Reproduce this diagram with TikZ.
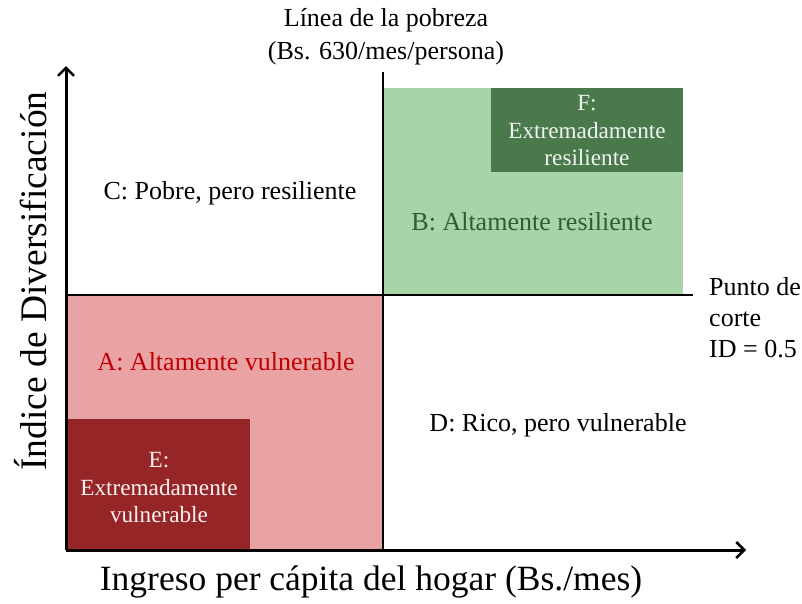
\documentclass[tikz,border=0pt]{standalone}
\usepackage{fontspec}
\setmainfont{Liberation Serif}
\usetikzlibrary{arrows.meta}
\definecolor{pinkA}{HTML}{EAA3A4}
\definecolor{redE}{HTML}{962527}
\definecolor{greenB}{HTML}{A8D4A8}
\definecolor{greenF}{HTML}{4A7A4B}
\definecolor{redtxt}{HTML}{C00000}
\definecolor{greentxt}{HTML}{2F5E2F}
\begin{document}
\begin{tikzpicture}[x=1pt,y=-1pt,
  lbl/.style={font=\fontsize{26}{31}\selectfont, align=center, inner sep=0pt},
  tight/.style={font=\fontsize{23.2}{27.5}\selectfont},
  axis/.style={line width=3pt, -{Straight Barb[length=8pt,width=16pt,line width=2.5pt]}},
  cut/.style={line width=1.3pt}]
\useasboundingbox (0,0) rectangle (802,603);
% regions
\fill[pinkA] (66,295) rectangle (383,550);
\fill[redE] (66,419) rectangle (250,550);
\fill[greenB] (383,88) rectangle (683,295);
\fill[greenF] (491,88) rectangle (683,172);
% cut lines
\coordinate (hl) at (66,295);
\coordinate (hr) at (693,295);
\coordinate (vt) at (383,72);
\coordinate (vb) at (383,550);
\draw[cut] (hl) -- (hr);
\draw[cut] (vt) -- (vb);
% axes
\coordinate (o) at (66,550);
\coordinate (ytop) at (66,66);
\coordinate (xend) at (746,550);
\draw[axis] (o) -- (ytop);
\draw[axis] (o) -- (xend);
% labels
\node[lbl, font=\fontsize{26}{33}\selectfont] (pob) at (386,37) {Línea de la pobreza\\(Bs. 630/mes/persona)};
\node[lbl] (C) at (230,193) {C: Pobre, pero resiliente};
\node[lbl, text=greentxt] (B) at (532,222) {B: Altamente resiliente};
\node[lbl, tight, text=white!92!greenF] (F) at (587,131) {F:\\Extremadamente\\resiliente};
\node[lbl, align=left, anchor=west] (pc) at (709,318) {Punto de\\corte\\ID = 0.5};
\node[lbl, text=redtxt] (A) at (226,362) {A: Altamente vulnerable};
\node[lbl, tight, text=white!85!pinkA] (E) at (159,488) {E:\\Extremadamente\\vulnerable};
\node[lbl] (D) at (558,425) {D: Rico, pero vulnerable};
\node[font=\fontsize{35.5}{40}\selectfont, inner sep=0pt] (xl) at (371,582) {Ingreso per cápita del hogar (Bs./mes)};
\node[font=\fontsize{37.5}{40}\selectfont, inner sep=0pt, rotate=90] (yl) at (31,281) {Índice de Diversificación};
\end{tikzpicture}
\end{document}
